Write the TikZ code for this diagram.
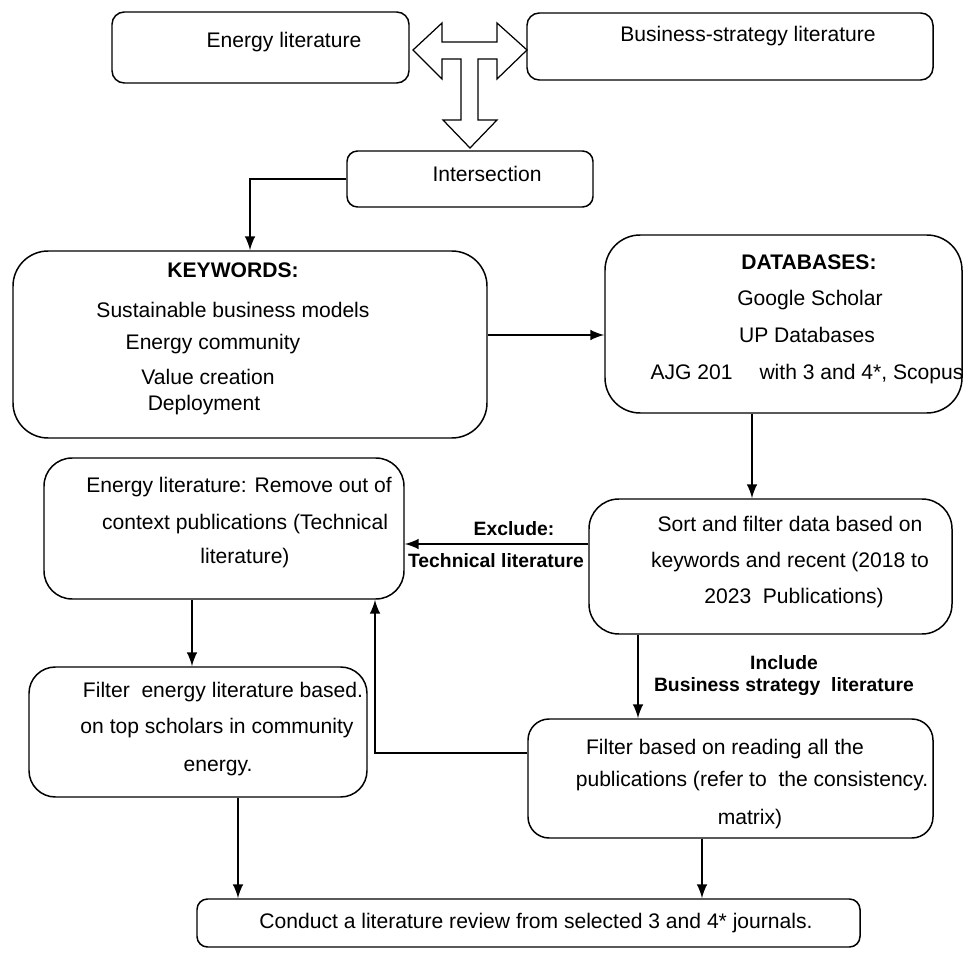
\documentclass[tikz,border=0pt]{standalone}
\usepackage{fontspec}
\setmainfont{Liberation Sans}
\usetikzlibrary{fit}

\begin{document}
\begin{tikzpicture}[x=0.02cm,y=-0.02cm,font=\fontsize{12}{14}\selectfont,>=latex] %% 1 unit = 1 px
	\tikzstyle{kuang}=[draw,rounded corners=7pt,line width=0.85pt,inner sep=0pt];
	\tikzstyle{wen}=[inner sep=0pt,text height=0.72em,text depth=0.21em];
	\tikzstyle{biao}=[inner sep=0pt,font=\fontsize{11}{12.5}\selectfont\bfseries];
	\tikzstyle{jt}=[->,line width=1.7pt];
	\useasboundingbox (0,0) rectangle (965,953);
	%% boxes
	\node[kuang,fit={(112,12) (409,83)}] (energy) {};
	\node[kuang,fit={(527,13) (933,80)}] (business) {};
	\node[kuang,rounded corners=6pt,fit={(347,151) (593,207)}] (inter) {};
	\node[kuang,rounded corners=20pt,fit={(13,251) (487,438)}] (kw) {};
	\node[kuang,rounded corners=20pt,fit={(605,235) (962,413)}] (db) {};
	\node[kuang,rounded corners=16pt,fit={(44,458) (404,599)}] (remove) {};
	\node[kuang,rounded corners=17pt,fit={(589,499) (952,634)}] (sort) {};
	\node[kuang,rounded corners=15pt,fit={(29,667) (367,797)}] (fenergy) {};
	\node[kuang,rounded corners=12pt,fit={(528,719) (933,838)}] (fread) {};
	\node[kuang,rounded corners=6pt,fit={(197,899) (860,947)}] (review) {};
	%% texts
	\node[wen] (energyt) at (284,43) {Energy literature};
	\node[wen] (businesst) at (748,37) {Business-strategy literature};
	\node[wen] (intert) at (487,177) {Intersection};
	\node[wen] (kw1) at (233,273) {\textbf{KEYWORDS:}};
	\node[wen] (kw2) at (233,313) {Sustainable business models};
	\node[wen] (kw3) at (213,345) {Energy community};
	\node[wen] (kw4) at (208,380) {Value creation};
	\node[wen] (kw5) at (204,406) {Deployment};
	\node[wen] (db1) at (809,265) {\textbf{DATABASES:}};
	\node[wen] (db2) at (810,301) {Google Scholar};
	\node[wen] (db3) at (807,338) {UP Databases};
	\node[wen] (db4) at (807,375) {AJG 201\hspace{1em} with 3 and 4*, Scopus};
	\node[wen] (remove1) at (239,488) {Energy literature: Remove out of};
	\node[wen] (remove2) at (245,525) {context publications (Technical};
	\node[wen] (remove3) at (245,559) {literature)};
	\node[wen] (sort1) at (790,527) {Sort and filter data based on};
	\node[wen] (sort2) at (790,563) {keywords and recent (2018 to};
	\node[wen] (sort3) at (794,599) {2023\ \ Publications)};
	\node[wen] (fenergy1) at (223,693) {Filter\ \ energy literature based.};
	\node[wen] (fenergy2) at (217,729) {on top scholars in community};
	\node[wen] (fenergy3) at (218,767) {energy.};
	\node[wen] (fread1) at (725,750) {Filter based on reading all the};
	\node[wen] (fread2) at (752,782) {publications (refer to\ \ the consistency.};
	\node[wen] (fread3) at (750,820) {matrix)};
	\node[wen] (reviewt) at (536,924) {Conduct a literature review from selected 3 and 4* journals.};
	%% hollow arrow
	\draw[line width=0.7pt] (413,50) -- (442,23) -- (442,42) -- (497,42) -- (497,23) -- (527,50) -- (497,79) -- (497,59) -- (478,59) -- (478,120) -- (497,120) -- (470,148) -- (443,120) -- (461,120) -- (461,59) -- (442,59) -- (442,79) -- cycle;
	%% connectors
	\draw[jt] (inter.west) -| (kw.north);
	\draw[jt] (kw.east |- 0,335) -- (db.west |- 0,335);
	\draw[jt] (db.south -| 752,0) -- (sort.north -| 752,0);
	\draw[jt] (sort.west |- 0,544) -- (remove.east |- 0,544);
	\node[biao] (exc1) at (514,529) {Exclude:};
	\node[biao] (exc2) at (496,561) {Technical literature};
	\draw[jt] (remove.south -| 192,0) -- (fenergy.north -| 192,0);
	\draw[jt] (sort.south -| 638,0) -- (fread.north -| 638,0);
	\node[biao,align=center] (inc) at (784,676) {Include\\Business strategy\ \ literature};
	\draw[jt] (fread.west |- 0,753) -| (remove.south -| 375,0);
	\draw[jt] (fenergy.south -| 238,0) -- (review.north -| 238,0);
	\draw[jt] (fread.south -| 702,0) -- (review.north -| 702,0);
\end{tikzpicture}
\end{document}
